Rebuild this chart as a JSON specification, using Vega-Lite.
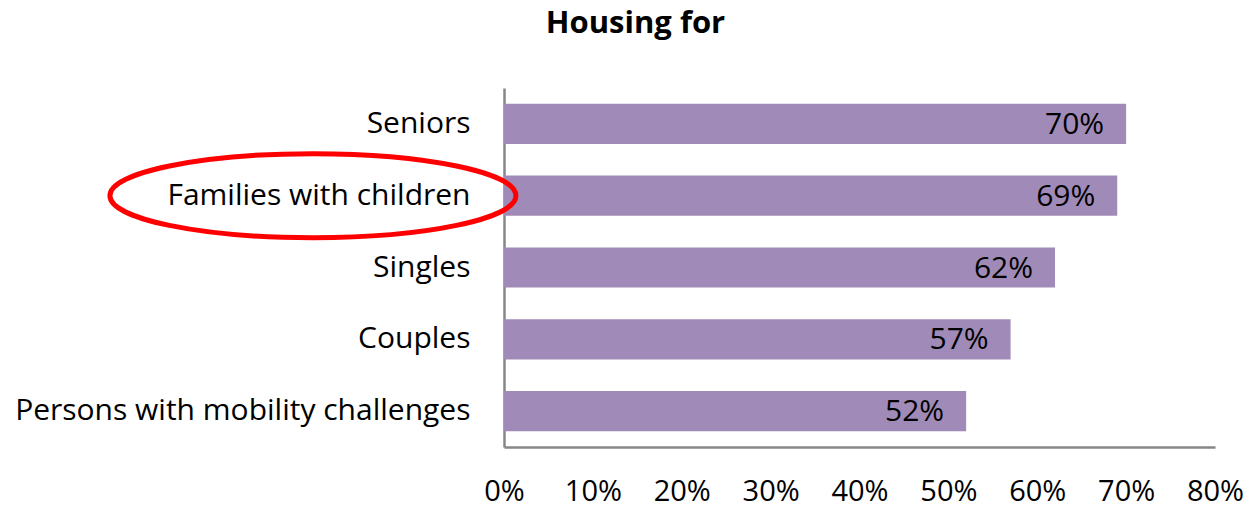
{
  "$schema": "https://vega.github.io/schema/vega-lite/v6.json",
  "autosize": "none",
  "width": 711,
  "height": 359,
  "padding": {"left": 504, "top": 88, "right": 34, "bottom": 60},
  "background": "white",
  "config": {"view": {"stroke": null}, "font": "Open Sans"},
  "title": {
    "text": "Housing for",
    "font": "Open Sans",
    "fontSize": 31,
    "fontWeight": "bold",
    "color": "#000000",
    "anchor": "middle",
    "dx": -224,
    "baseline": "alphabetic",
    "offset": 24
  },
  "data": {
    "values": [
      {"category": "Seniors", "value": 0.70, "label": "70%"},
      {"category": "Families with children", "value": 0.69, "label": "69%"},
      {"category": "Singles", "value": 0.62, "label": "62%"},
      {"category": "Couples", "value": 0.57, "label": "57%"},
      {"category": "Persons with mobility challenges", "value": 0.52, "label": "52%"}
    ]
  },
  "encoding": {
    "y": {
      "field": "category",
      "type": "nominal",
      "sort": null,
      "scale": {"paddingInner": 0.44, "paddingOuter": 0.22},
      "axis": {
        "title": null,
        "ticks": false,
        "tickSize": 0,
        "domainColor": "#878787",
        "domainWidth": 2.5,
        "labelFont": "Open Sans",
        "labelFontSize": 30,
        "labelColor": "#000000",
        "labelPadding": 34,
        "labelLimit": 600
      }
    }
  },
  "layer": [
    {
      "mark": {"type": "bar", "color": "#A08BB8"},
      "encoding": {
        "x": {
          "field": "value",
          "type": "quantitative",
          "scale": {"domain": [0, 0.8], "nice": false},
          "axis": {
            "title": null,
            "format": ".0%",
            "values": [0, 0.1, 0.2, 0.3, 0.4, 0.5, 0.6, 0.7, 0.8],
            "grid": false,
            "ticks": false,
            "tickSize": 0,
            "domainColor": "#878787",
            "domainWidth": 2.5,
            "labelFont": "Open Sans",
            "labelFontSize": 29,
            "labelColor": "#000000",
            "labelPadding": 30,
            "labelFlush": false,
            "labelOverlap": false
          }
        }
      }
    },
    {
      "mark": {
        "type": "text",
        "align": "right",
        "baseline": "middle",
        "dx": -22,
        "dy": 1,
        "font": "Open Sans",
        "fontSize": 30,
        "color": "#000000"
      },
      "encoding": {
        "x": {"field": "value", "type": "quantitative"},
        "text": {"field": "label"}
      }
    },
    {
      "data": {"values": [{"category": "Families with children"}]},
      "mark": {
        "type": "point",
        "shape": "M -1 0 A 1 0.207 0 1 1 1 0 A 1 0.207 0 1 1 -1 0 Z",
        "size": 164836,
        "filled": false,
        "stroke": "#FF0000",
        "strokeWidth": 5,
        "opacity": 1
      },
      "encoding": {
        "x": {"datum": -0.215, "type": "quantitative"}
      }
    }
  ]
}
